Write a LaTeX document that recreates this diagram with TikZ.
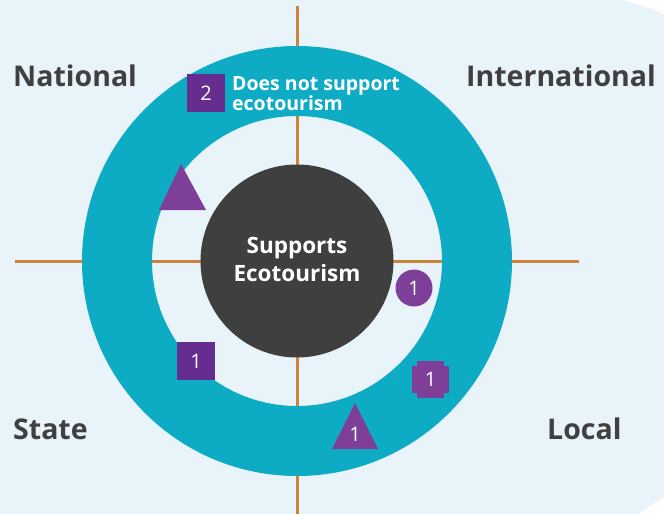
\documentclass[tikz,border=0pt]{standalone}
\usepackage{fontspec}
\setmainfont{Open Sans}
\definecolor{bgblue}{HTML}{E8F3FA}
\definecolor{ringteal}{HTML}{0DABC4}
\definecolor{coregray}{HTML}{3F3F3F}
\definecolor{axisorange}{HTML}{CE8438}
\definecolor{darkpurple}{HTML}{652D90}
\definecolor{litpurple}{HTML}{7D3F98}
\definecolor{labelgray}{HTML}{404040}
\tikzset{
  axisline/.style={draw=axisorange, line width=3pt},
  scopelabel/.style={anchor=base west, inner sep=0pt, text=labelgray,
    font=\bfseries\fontsize{28.5}{34}\selectfont},
  marknum/.style={text=white, inner sep=0pt, font=\fontsize{20}{20}\selectfont},
  sqmark/.style={fill=darkpurple, minimum size=38pt, inner sep=0pt, marknum},
  circmark/.style={circle, fill=litpurple, minimum size=37pt, inner sep=0pt, marknum},
  trimark/.style={fill=litpurple},
  keytext/.style={anchor=base west, inner sep=0pt, text=white,
    font=\bfseries\fontsize{19.5}{20}\selectfont},
}
\begin{document}
\begin{tikzpicture}[x=1pt,y=-1pt]
\useasboundingbox (0,0) rectangle (664,514);
% page and panel
\fill[white] (0,0) rectangle (664,514);
\fill[bgblue] (0,0) -- (623,0) .. controls (640,5) and (655,9) .. (664,15)
  -- (664,497) .. controls (655,503) and (645,509) .. (637,514) -- (0,514) -- cycle;
% axes
\coordinate (vt) at (297,6);
\coordinate (vb) at (297,514);
\coordinate (hl) at (15,261);
\coordinate (hr) at (579,261);
\draw[axisline] (vt) -- (vb);
\draw[axisline] (hl) -- (hr);
% ring
\fill[ringteal, even odd rule] (297,261) circle (215pt) (297,261) circle (145pt);
% core
\node[circle, fill=coregray, minimum size=193pt, inner sep=0pt] (core) at (297,261) {};
\node[text=white, align=center, inner sep=0pt,
  font=\bfseries\fontsize{22.5}{28}\selectfont] (coretext) at (297,259) {Supports\\Ecotourism};
% quadrant labels
\node[scopelabel] (national) at (13,86) {National};
\node[scopelabel] (international) at (466,86) {International};
\node[scopelabel] (state) at (13,439) {State};
\node[scopelabel] (local) at (547,439) {Local};
% key
\node[sqmark] (key) at (206,93) {2};
\node[keytext] (keyA) at (232,90) {Does not support};
\node[keytext] (keyB) at (232,110) {ecotourism};
% marks
\node[sqmark] (sqA) at (196,361) {1};
\node[circmark] (circA) at (414,288) {1};
% notched square: two overlapping rectangles
\fill[litpurple] (417,361) rectangle (444,398);
\fill[litpurple] (412,366) rectangle (449,393);
\node[marknum] (octA) at (430.5,379.5) {1};
\fill[trimark] (181,164) -- (206,210) -- (159,210) -- cycle;
\fill[trimark] (355,403) -- (378,449) -- (332,449) -- cycle;
\node[marknum] (triB) at (355,434) {1};
\end{tikzpicture}
\end{document}
